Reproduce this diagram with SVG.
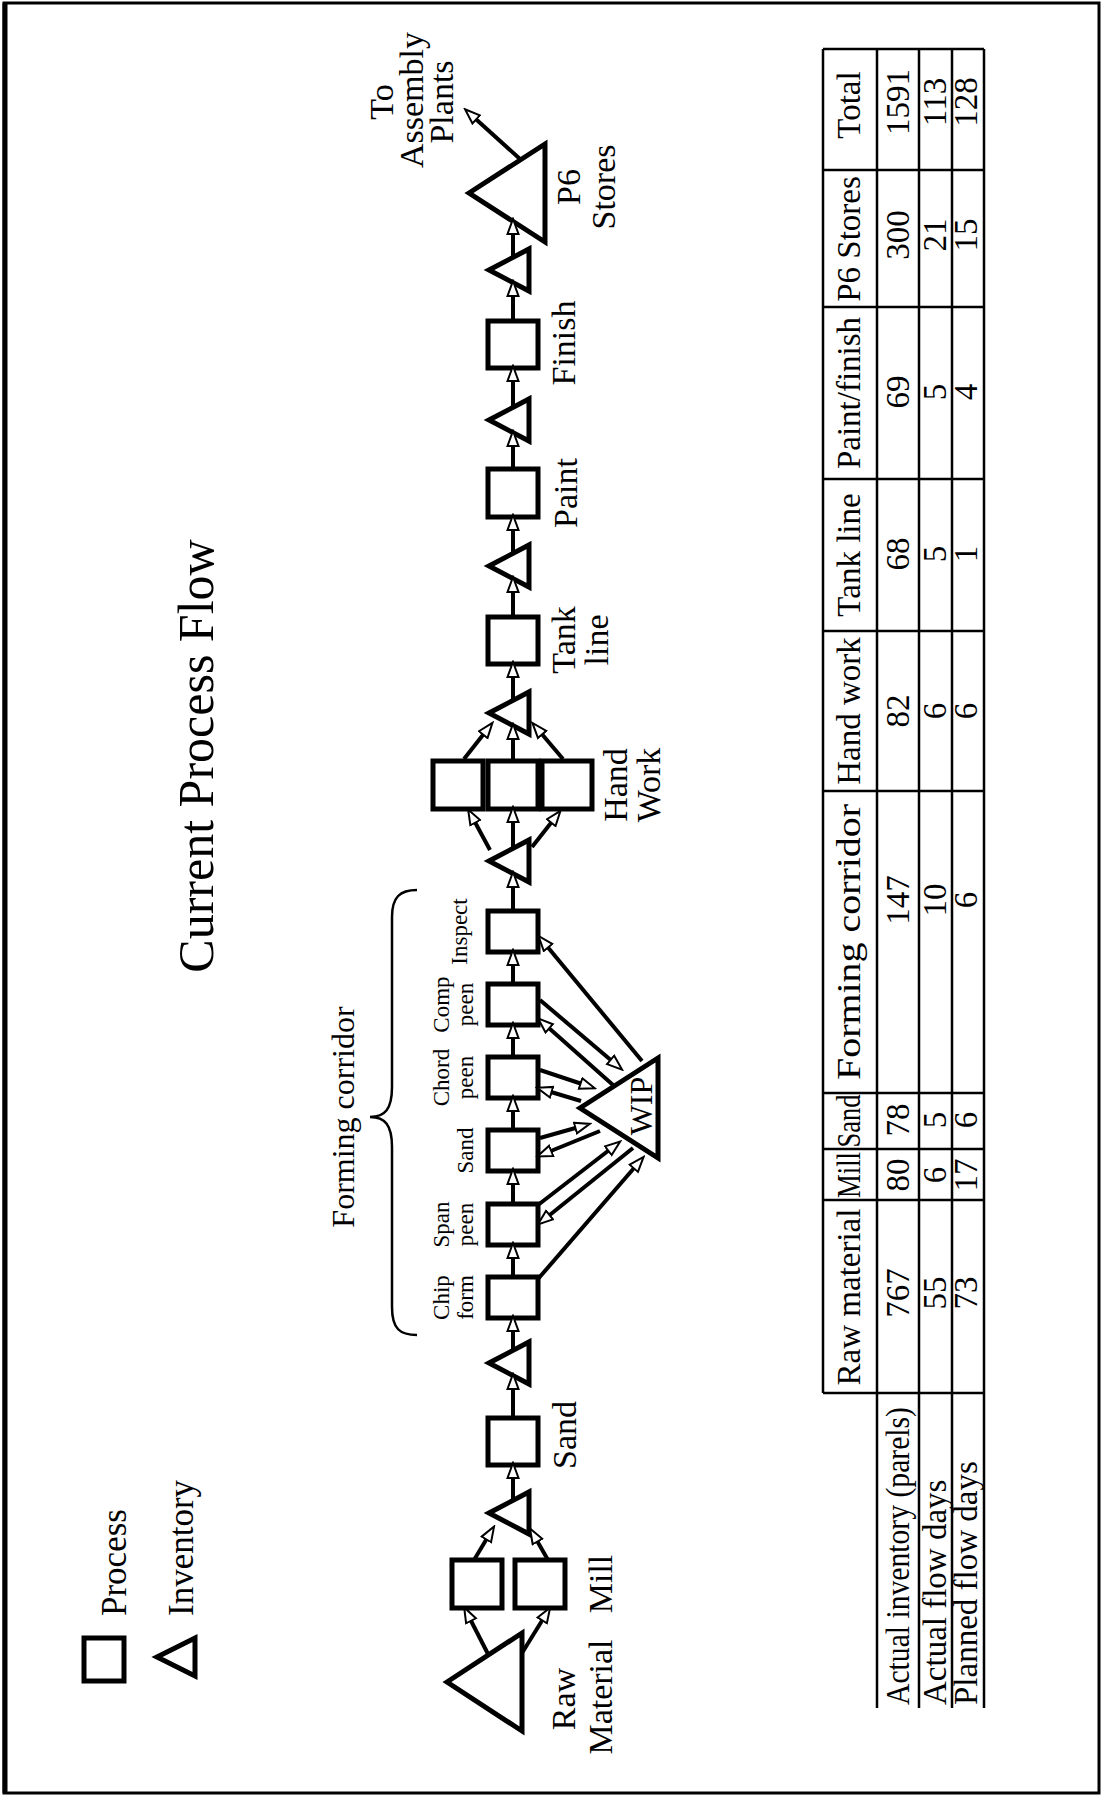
<svg xmlns="http://www.w3.org/2000/svg" width="1103" height="1797" viewBox="0 0 1103 1797">
<style>
text{font-family:"Liberation Serif","Times New Roman",serif;fill:#000}
.lbl{font-size:34px}
.sm{font-size:23px}
.mid{text-anchor:middle}
.box{fill:#fff;stroke:#000;stroke-width:5}
.tri{fill:#fff;stroke:#000;stroke-width:5;stroke-linejoin:miter}
.conn line{stroke:#000;stroke-width:4;marker-end:url(#ah)}
.tbl line{stroke:#000;stroke-width:2.5}
.tbl text{font-size:33px}
</style>
<defs>
<marker id="ah" markerUnits="userSpaceOnUse" markerWidth="18" markerHeight="15" refX="12" refY="7" orient="auto">
<path d="M1,1.5 L16,7 L1,12.5 Z" fill="#fff" stroke="#000" stroke-width="2"/>
</marker>
</defs>
<rect x="4" y="3" width="1095" height="1790" fill="#fff" stroke="#000" stroke-width="3"/>
<line x1="5" y1="3" x2="5" y2="1793" stroke="#000" stroke-width="5"/>
<g transform="translate(0,1797) rotate(-90)">
<g id="title"><text x="1041" y="213" font-size="50" class="mid">Current Process Flow</text></g>
<g id="legend">
<rect class="box" x="116" y="84" width="43" height="40" stroke-width="4"/>
<text x="181" y="126" font-size="35">Process</text>
<polygon class="tri" points="140,157 159,195 121,195" stroke-width="4"/>
<text x="181" y="193" font-size="35">Inventory</text>
</g>
<g id="raw-material"><polygon class="tri" points="115,447 164,522 66,522"/><text class="lbl mid" x="98" y="575">Raw</text><text class="lbl mid" x="100" y="612">Material</text></g>
<g id="mill"><rect class="box" x="189" y="452" width="48" height="50"/><rect class="box" x="189" y="515" width="48" height="50"/><text class="lbl mid" x="213" y="612">Mill</text></g>
<g id="inv1"><polygon class="tri" points="284,489 305,529 263,529"/></g>
<g id="sand1"><rect class="box" x="332" y="488" width="47" height="50"/><text class="lbl mid" x="362" y="576">Sand</text></g>
<g id="inv2"><polygon class="tri" points="434,489 455,529 413,529"/></g>
<g id="forming-label"><path d="M462,417 C462,400 468,392 490,392 L650,392 C672,392 680,385 680,370 C680,385 688,392 710,392 L880,392 C900,392 907,400 907,417" fill="none" stroke="#000" stroke-width="2.5"/><text x="680" y="354" font-size="32" class="mid">Forming corridor</text></g>
<g id="chip-form"><rect class="box" x="479" y="488" width="41" height="50"/><text class="sm mid" x="499.5" y="449">Chip</text><text class="sm mid" x="499.5" y="473">form</text></g>
<g id="span-peen"><rect class="box" x="552" y="488" width="41" height="50"/><text class="sm mid" x="572.5" y="449">Span</text><text class="sm mid" x="572.5" y="473">peen</text></g>
<g id="sand2"><rect class="box" x="626" y="488" width="41" height="50"/><text class="sm mid" x="646.5" y="473">Sand</text></g>
<g id="chord-peen"><rect class="box" x="699" y="488" width="41" height="50"/><text class="sm mid" x="719.5" y="449">Chord</text><text class="sm mid" x="719.5" y="473">peen</text></g>
<g id="comp-peen"><rect class="box" x="772" y="488" width="41" height="50"/><text class="sm mid" x="792.5" y="449">Comp</text><text class="sm mid" x="792.5" y="473">peen</text></g>
<g id="inspect"><rect class="box" x="845" y="488" width="41" height="50"/><text class="sm mid" x="865.5" y="467">Inspect</text></g>
<g id="wip"><polygon class="tri" points="689,580 739,658 639,658"/><text x="691" y="652" font-size="32" class="mid">WIP</text></g>
<g id="inv3"><polygon class="tri" points="936,489 957,529 915,529"/></g>
<g id="hand-work"><rect class="box" x="988" y="433" width="48" height="50"/><rect class="box" x="988" y="488" width="48" height="50"/><rect class="box" x="988" y="542" width="48" height="50"/><text class="lbl mid" x="1012" y="627">Hand</text><text class="lbl mid" x="1012" y="660">Work</text></g>
<g id="inv4"><polygon class="tri" points="1084,489 1105,529 1063,529"/></g>
<g id="tank-line"><rect class="box" x="1133" y="488" width="47" height="50"/><text class="lbl mid" x="1157" y="575">Tank</text><text class="lbl mid" x="1157" y="608">line</text></g>
<g id="inv5"><polygon class="tri" points="1231,489 1252,529 1210,529"/></g>
<g id="paint"><rect class="box" x="1280" y="488" width="48" height="50"/><text class="lbl mid" x="1304" y="577">Paint</text></g>
<g id="inv6"><polygon class="tri" points="1377,489 1398,529 1356,529"/></g>
<g id="finish"><rect class="box" x="1429" y="488" width="47" height="50"/><text class="lbl mid" x="1454" y="575">Finish</text></g>
<g id="inv7"><polygon class="tri" points="1527,489 1548,529 1506,529"/></g>
<g id="p6-stores"><polygon class="tri" points="1604,469 1653,545 1555,545"/><text class="lbl mid" x="1610" y="580">P6</text><text class="lbl mid" x="1610" y="615">Stores</text></g>
<g id="assembly-plants"><text class="lbl mid" x="1695" y="393">To</text><text class="lbl mid" x="1697" y="423">Assembly</text><text class="lbl mid" x="1695" y="453">Plants</text></g>
<g id="connectors" class="conn">
<line x1="143" y1="488" x2="186" y2="466"/>
<line x1="144" y1="522" x2="186" y2="548"/>
<line x1="237" y1="474" x2="267" y2="492"/>
<line x1="237" y1="548" x2="265" y2="532"/>
<line x1="298" y1="513" x2="330" y2="513"/>
<line x1="380" y1="513" x2="419" y2="513"/>
<line x1="448" y1="513" x2="477" y2="513"/>
<line x1="520" y1="513" x2="550" y2="513"/>
<line x1="593" y1="513" x2="624" y2="513"/>
<line x1="667" y1="513" x2="697" y2="513"/>
<line x1="740" y1="513" x2="770" y2="513"/>
<line x1="813" y1="513" x2="843" y2="513"/>
<line x1="886" y1="513" x2="921" y2="513"/>
<line x1="518" y1="538" x2="637" y2="641"/>
<line x1="592" y1="538" x2="653" y2="617"/>
<line x1="649" y1="633" x2="575" y2="541"/>
<line x1="659" y1="540" x2="672" y2="586"/>
<line x1="666" y1="600" x2="642" y2="541"/>
<line x1="727" y1="540" x2="710" y2="591"/>
<line x1="696" y1="581" x2="708" y2="541"/>
<line x1="797" y1="540" x2="730" y2="619"/>
<line x1="712" y1="613" x2="776" y2="541"/>
<line x1="736" y1="642" x2="858" y2="541"/>
<line x1="947" y1="490" x2="984" y2="470"/>
<line x1="950" y1="513" x2="986" y2="513"/>
<line x1="950" y1="532" x2="983" y2="558"/>
<line x1="1038" y1="464" x2="1071" y2="490"/>
<line x1="1036" y1="513" x2="1069" y2="513"/>
<line x1="1038" y1="563" x2="1071" y2="535"/>
<line x1="1098" y1="513" x2="1131" y2="513"/>
<line x1="1180" y1="513" x2="1216" y2="513"/>
<line x1="1245" y1="513" x2="1278" y2="513"/>
<line x1="1328" y1="513" x2="1362" y2="513"/>
<line x1="1391" y1="513" x2="1427" y2="513"/>
<line x1="1476" y1="513" x2="1512" y2="513"/>
<line x1="1541" y1="513" x2="1574" y2="513"/>
<line x1="1638" y1="520" x2="1685" y2="468"/>
</g>
<g id="table" class="tbl">
<line x1="404" y1="823" x2="1748" y2="823"/>
<line x1="89" y1="877" x2="1748" y2="877"/>
<line x1="89" y1="919" x2="1748" y2="919"/>
<line x1="89" y1="952" x2="1748" y2="952"/>
<line x1="89" y1="984" x2="1748" y2="984"/>
<line x1="404" y1="823" x2="404" y2="984"/>
<line x1="597" y1="823" x2="597" y2="984"/>
<line x1="648" y1="823" x2="648" y2="984"/>
<line x1="704" y1="823" x2="704" y2="984"/>
<line x1="1006" y1="823" x2="1006" y2="984"/>
<line x1="1166" y1="823" x2="1166" y2="984"/>
<line x1="1318" y1="823" x2="1318" y2="984"/>
<line x1="1490" y1="823" x2="1490" y2="984"/>
<line x1="1627" y1="823" x2="1627" y2="984"/>
<line x1="1748" y1="823" x2="1748" y2="984"/>
<g class="mid">
<text x="500" y="860">Raw material</text><text x="622" y="860" textLength="46" lengthAdjust="spacingAndGlyphs">Mill</text><text x="676" y="860" textLength="53" lengthAdjust="spacingAndGlyphs">Sand</text><text x="855" y="860" textLength="276" lengthAdjust="spacingAndGlyphs">Forming corridor</text><text x="1086" y="860">Hand work</text><text x="1242" y="860">Tank line</text><text x="1404" y="860">Paint/finish</text><text x="1558" y="860">P6 Stores</text><text x="1692" y="860">Total</text>
<text x="504" y="909">767</text><text x="622" y="909">80</text><text x="677" y="909">78</text><text x="897" y="909">147</text><text x="1086" y="909">82</text><text x="1243" y="909">68</text><text x="1405" y="909">69</text><text x="1562" y="909">300</text><text x="1695" y="909">1591</text>
<text x="504" y="946">55</text><text x="622" y="946">6</text><text x="677" y="946">5</text><text x="897" y="946">10</text><text x="1086" y="946">6</text><text x="1243" y="946">5</text><text x="1405" y="946">5</text><text x="1562" y="946">21</text><text x="1695" y="946">113</text>
<text x="504" y="977">73</text><text x="622" y="977">17</text><text x="677" y="977">6</text><text x="897" y="977">6</text><text x="1086" y="977">6</text><text x="1243" y="977">1</text><text x="1405" y="977">4</text><text x="1562" y="977">15</text><text x="1695" y="977">128</text>
</g>
<text x="92" y="909" textLength="298" lengthAdjust="spacingAndGlyphs">Actual inventory (parels)</text>
<text x="92" y="946">Actual flow days</text>
<text x="92" y="977">Planned flow days</text>
</g>
</g>
</svg>
